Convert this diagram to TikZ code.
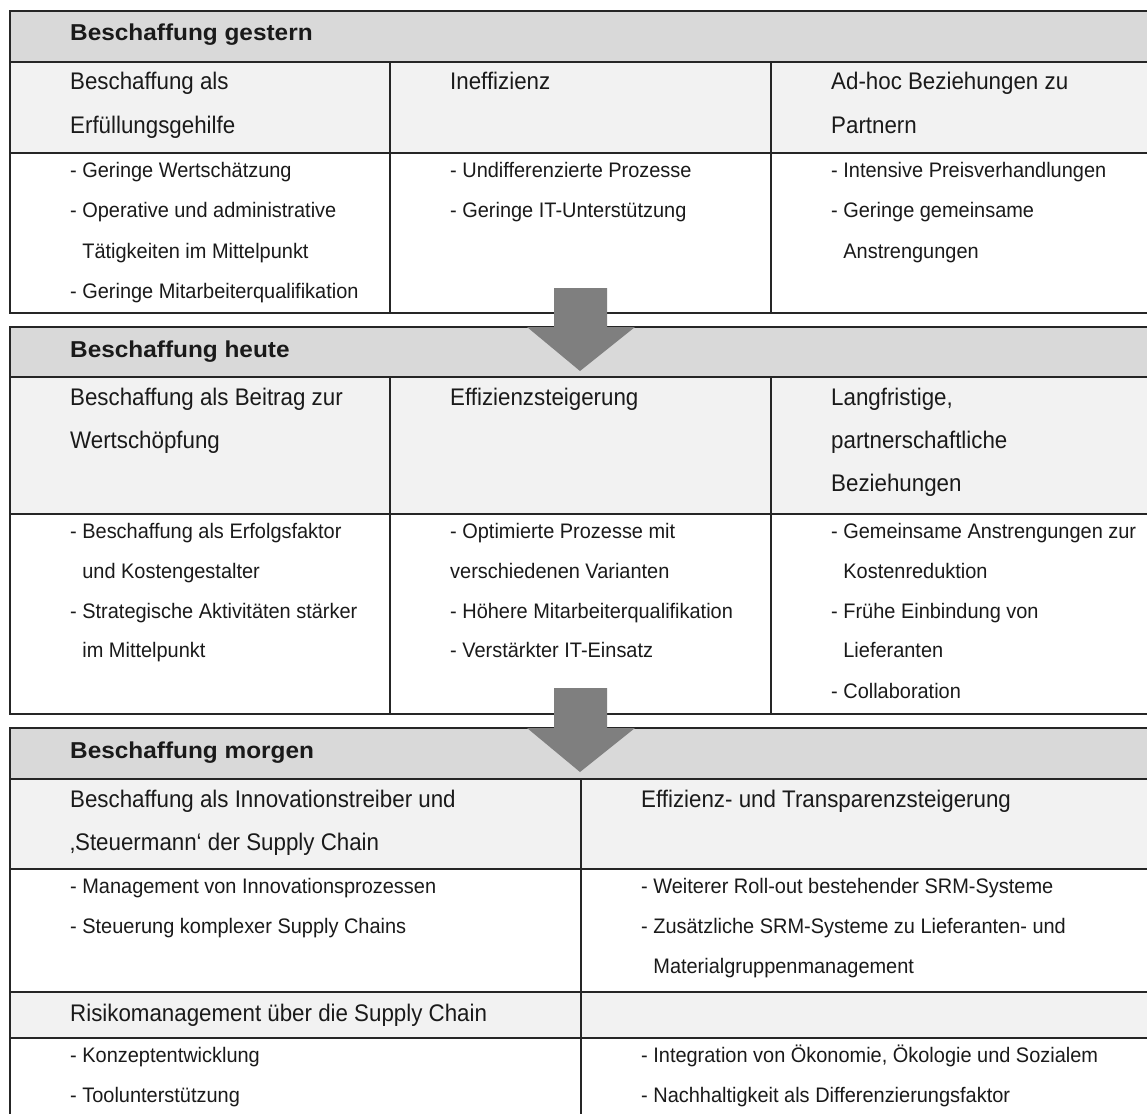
\documentclass[tikz,border=0pt]{standalone}
\usepackage{fontspec}
\setmainfont{Liberation Sans}
\newfontfamily\hdfont[FakeStretch=1.06]{Liberation Sans}
\newfontfamily\subfont[FakeStretch=0.93]{Liberation Sans}
\newfontfamily\itemfont[FakeStretch=0.95]{Liberation Sans}
\definecolor{hdgray}{HTML}{D9D9D9}
\definecolor{subgray}{HTML}{F2F2F2}
\definecolor{arrowgray}{HTML}{7F7F7F}
\definecolor{rulecol}{HTML}{262626}
\definecolor{txtcol}{HTML}{1A1A1A}
\newcommand\ind{\hphantom{- }}
\begin{document}
\begin{tikzpicture}[x=1pt,y=-1pt,
  rule/.style={draw=rulecol,line width=1.3pt},
  hd/.style={anchor=base west,inner sep=0pt,text=txtcol,font=\hdfont\bfseries\fontsize{23}{27}\selectfont},
  sub/.style={anchor=base west,inner sep=0pt,text=txtcol,font=\subfont\fontsize{24}{29}\selectfont},
  item/.style={anchor=base west,inner sep=0pt,text=txtcol,font=\itemfont\fontsize{21}{25}\selectfont},
  pointer/.style={fill=arrowgray}]
\useasboundingbox (0,0) rectangle (1147,1113);
\clip (0,0) rectangle (1147,1113);

% ---- background fills of the three blocks
\fill[white] (0,0) rectangle (1147,1113);
\fill[hdgray]  (10,11)  rectangle (1160,62);
\fill[subgray] (10,62)  rectangle (1160,153);
\fill[hdgray]  (10,327) rectangle (1160,377);
\fill[subgray] (10,377) rectangle (1160,514);
\fill[hdgray]  (10,728) rectangle (1160,779);
\fill[subgray] (10,779) rectangle (1160,869);
\fill[subgray] (10,992) rectangle (1160,1038);

% ---- block 1: gestern
\draw[rule] (10,11) rectangle (1160,313);
\draw[rule] (10,62) -- (1160,62);
\draw[rule] (10,153) -- (1160,153);
\draw[rule] (390,62) -- (390,313);
\draw[rule] (771,62) -- (771,313);

% ---- block 2: heute
\draw[rule] (10,327) rectangle (1160,714);
\draw[rule] (10,377) -- (1160,377);
\draw[rule] (10,514) -- (1160,514);
\draw[rule] (390,377) -- (390,714);
\draw[rule] (771,377) -- (771,714);

% ---- block 3: morgen
\draw[rule] (10,728) rectangle (1160,1130);
\draw[rule] (10,779) -- (1160,779);
\draw[rule] (10,869) -- (1160,869);
\draw[rule] (10,992) -- (1160,992);
\draw[rule] (10,1038) -- (1160,1038);
\draw[rule] (581,779) -- (581,1130);

% ---- transition arrows
\fill[pointer] (554,288) -- (607,288) -- (607,327) -- (635,327) -- (580,371) -- (527,327) -- (554,327) -- cycle;
\fill[pointer] (554,688) -- (607,688) -- (607,728) -- (635,728) -- (580,772) -- (527,728) -- (554,728) -- cycle;

% ---- texts, block 1
\node[hd] (h1) at (70,41) {Beschaffung gestern};
\node[sub] (s1a1) at (70,90) {Beschaffung als};
\node[sub] (s1a2) at (70,133) {Erfüllungsgehilfe};
\node[sub] (s1b1) at (450,90) {Ineffizienz};
\node[sub] (s1c1) at (831,90) {Ad-hoc Beziehungen zu};
\node[sub] (s1c2) at (831,133) {Partnern};
\node[item] (i1a1) at (70,177) {- Geringe Wertschätzung};
\node[item] (i1a2) at (70,217) {- Operative und administrative};
\node[item] (i1a3) at (70,258) {\ind Tätigkeiten im Mittelpunkt};
\node[item] (i1a4) at (70,298) {- Geringe Mitarbeiterqualifikation};
\node[item] (i1b1) at (450,177) {- Undifferenzierte Prozesse};
\node[item] (i1b2) at (450,217) {- Geringe IT-Unterstützung};
\node[item] (i1c1) at (831,177) {- Intensive Preisverhandlungen};
\node[item] (i1c2) at (831,217) {- Geringe gemeinsame};
\node[item] (i1c3) at (831,258) {\ind Anstrengungen};

% ---- texts, block 2
\node[hd] (h2) at (70,357) {Beschaffung heute};
\node[sub] (s2a1) at (70,405) {Beschaffung als Beitrag zur};
\node[sub] (s2a2) at (70,448) {Wertschöpfung};
\node[sub] (s2b1) at (450,405) {Effizienzsteigerung};
\node[sub] (s2c1) at (831,405) {Langfristige,};
\node[sub] (s2c2) at (831,448) {partnerschaftliche};
\node[sub] (s2c3) at (831,491) {Beziehungen};
\node[item] (i2a1) at (70,538) {- Beschaffung als Erfolgsfaktor};
\node[item] (i2a2) at (70,578) {\ind und Kostengestalter};
\node[item] (i2a3) at (70,618) {- Strategische Aktivitäten stärker};
\node[item] (i2a4) at (70,657) {\ind im Mittelpunkt};
\node[item] (i2b1) at (450,538) {- Optimierte Prozesse mit};
\node[item] (i2b2) at (450,578) {verschiedenen Varianten};
\node[item] (i2b3) at (450,618) {- Höhere Mitarbeiterqualifikation};
\node[item] (i2b4) at (450,657) {- Verstärkter IT-Einsatz};
\node[item] (i2c1) at (831,538) {- Gemeinsame Anstrengungen zur};
\node[item] (i2c2) at (831,578) {\ind Kostenreduktion};
\node[item] (i2c3) at (831,618) {- Frühe Einbindung von};
\node[item] (i2c4) at (831,657) {\ind Lieferanten};
\node[item] (i2c5) at (831,698) {- Collaboration};

% ---- texts, block 3
\node[hd] (h3) at (70,758) {Beschaffung morgen};
\node[sub] (s3a1) at (70,807) {Beschaffung als Innovationstreiber und};
\node[sub] (s3a2) at (70,850) {‚Steuermann‘ der Supply Chain};
\node[sub] (s3b1) at (641,807) {Effizienz- und Transparenzsteigerung};
\node[item] (i3a1) at (70,893) {- Management von Innovationsprozessen};
\node[item] (i3a2) at (70,933) {- Steuerung komplexer Supply Chains};
\node[item] (i3b1) at (641,893) {- Weiterer Roll-out bestehender SRM-Systeme};
\node[item] (i3b2) at (641,933) {- Zusätzliche SRM-Systeme zu Lieferanten- und};
\node[item] (i3b3) at (641,973) {\ind Materialgruppenmanagement};
\node[sub] (s3c1) at (70,1021) {Risikomanagement über die Supply Chain};
\node[item] (i3c1) at (70,1062) {- Konzeptentwicklung};
\node[item] (i3c2) at (70,1102) {- Toolunterstützung};
\node[item] (i3d1) at (641,1062) {- Integration von Ökonomie, Ökologie und Sozialem};
\node[item] (i3d2) at (641,1102) {- Nachhaltigkeit als Differenzierungsfaktor};
\end{tikzpicture}
\end{document}
